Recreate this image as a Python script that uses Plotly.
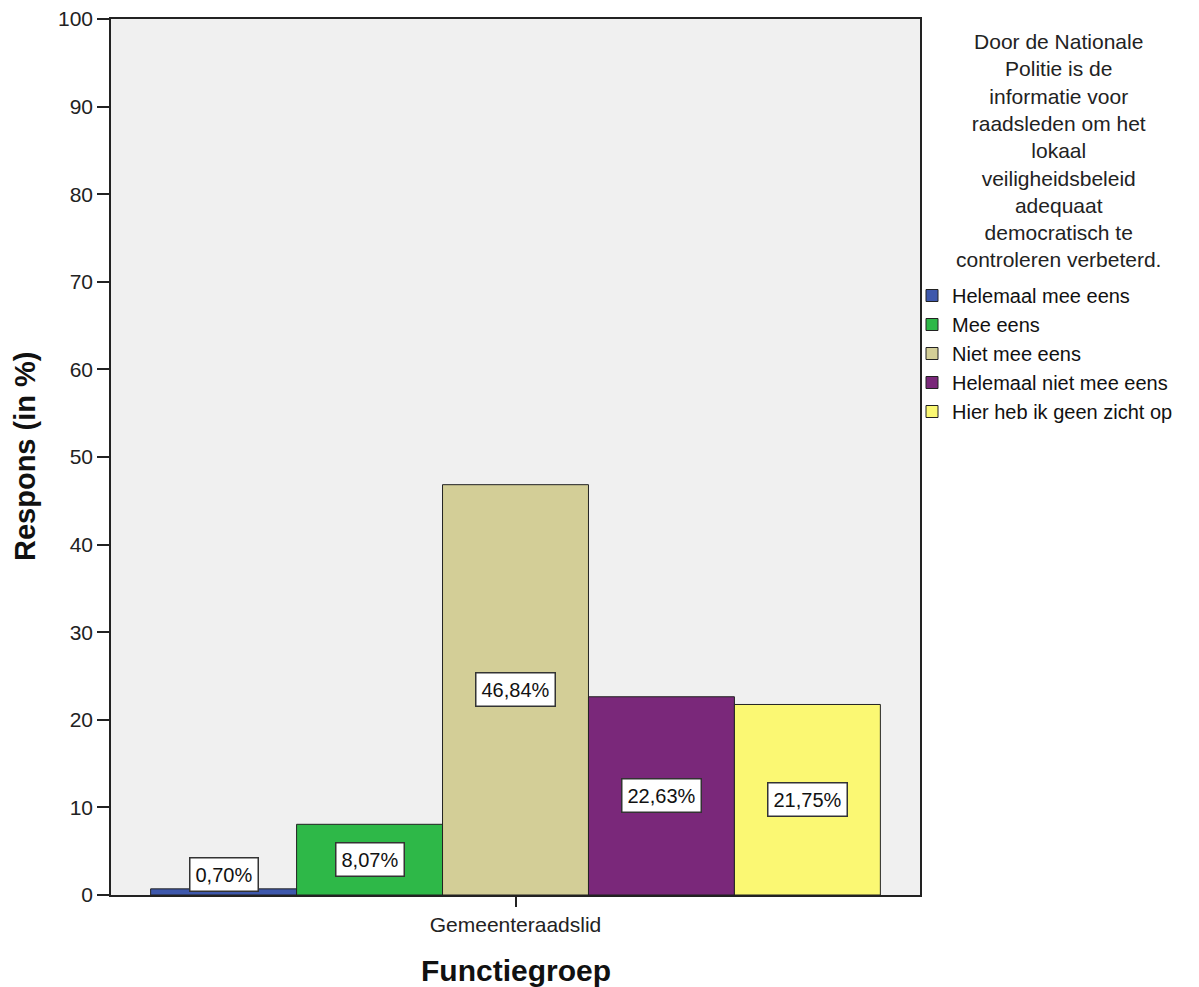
import plotly.graph_objects as go

categories = ["Gemeenteraadslid"]
series_names = ["Helemaal mee eens", "Mee eens", "Niet mee eens",
                "Helemaal niet mee eens", "Hier heb ik geen zicht op"]
series_values = [0.70, 8.07, 46.84, 22.63, 21.75]
series_labels = ["0,70%", "8,07%", "46,84%", "22,63%", "21,75%"]
colors = ["#3E58AC", "#2EB848", "#D3CE97", "#7A287A", "#FBF873"]
y_ticks = [0, 10, 20, 30, 40, 50, 60, 70, 80, 90, 100]
legend_title_lines = ["Door de Nationale", "Politie is de", "informatie voor",
                      "raadsleden om het", "lokaal", "veiligheidsbeleid",
                      "adequaat", "democratisch te", "controleren verbeterd."]

FONT = "Liberation Sans, Arial, sans-serif"
bargap = 0.098
W, H = 1199, 987
L, R, T, B = 111, 279, 19, 92
PW, PH = W - L - R, H - T - B


def px_x(x):
    return (x - L) / PW


def px_y(y):
    return (H - B - y) / PH


fig = go.Figure()
for name, val, col in zip(series_names, series_values, colors):
    fig.add_trace(go.Bar(
        x=categories, y=[val], name=name,
        marker=dict(color=col, line=dict(color="#222222", width=1)),
        hoverinfo="name+y",
    ))

n = len(series_values)
group_w = 1 - bargap
bw = group_w / n
for i, (val, lab) in enumerate(zip(series_values, series_labels)):
    xc = -group_w / 2 + (i + 0.5) * bw
    fig.add_annotation(
        x=xc, y=max(val / 2, 2.3), xref="x", yref="y",
        text=lab, showarrow=False,
        font=dict(family=FONT, size=20, color="#111111"),
        bgcolor="white", bordercolor="#333333", borderwidth=1.5, borderpad=5,
    )

# legend title (centered block of lines)
fig.add_annotation(
    x=px_x(1058), y=px_y(150), xref="paper", yref="paper",
    text="<br>".join(legend_title_lines), showarrow=False,
    xanchor="center", yanchor="middle", align="center",
    font=dict(family=FONT, size=21, color="#222222"),
)

# axis titles
fig.add_annotation(
    x=px_x(25), y=0.5, xref="paper", yref="paper",
    text="<b>Respons (in %)</b>", textangle=-90, showarrow=False,
    xanchor="center", yanchor="middle",
    font=dict(family=FONT, size=29, color="#111111"),
)
fig.add_annotation(
    x=0.5, y=px_y(970), xref="paper", yref="paper",
    text="<b>Functiegroep</b>", showarrow=False,
    xanchor="center", yanchor="middle",
    font=dict(family=FONT, size=30, color="#111111"),
)

fig.update_layout(
    width=W, height=H,
    margin=dict(l=L, r=R, t=T, b=B, autoexpand=False),
    paper_bgcolor="white", plot_bgcolor="#F0F0F0",
    barmode="group", bargap=bargap, bargroupgap=0,
    font=dict(family=FONT, size=20, color="#222222"),
    showlegend=True,
    legend=dict(
        x=912 / W, xref="container", xanchor="left",
        y=1 - 276 / H, yref="container", yanchor="top",
        font=dict(family=FONT, size=20, color="#111111"),
        bgcolor="rgba(0,0,0,0)", itemwidth=30, tracegroupgap=0,
    ),
    xaxis=dict(
        type="category", range=[-0.5, 0.5],
        ticks="outside", ticklen=10, tickcolor="#222222", tickwidth=1.5,
        tickfont=dict(family=FONT, size=21, color="#222222"),
        showline=True, linecolor="#222222", linewidth=1.5, mirror=True, showgrid=False,
    ),
    yaxis=dict(
        range=[0, 100], tickvals=y_ticks,
        ticks="outside", ticklen=12, tickcolor="#222222", tickwidth=1.5,
        tickfont=dict(family=FONT, size=21, color="#222222"),
        showline=True, linecolor="#222222", linewidth=1.5, mirror=True,
        showgrid=False, zeroline=False,
    ),
)

fig.write_html("out.html", config={"displayModeBar": False},
               post_script="document.body.style.margin='0';")
